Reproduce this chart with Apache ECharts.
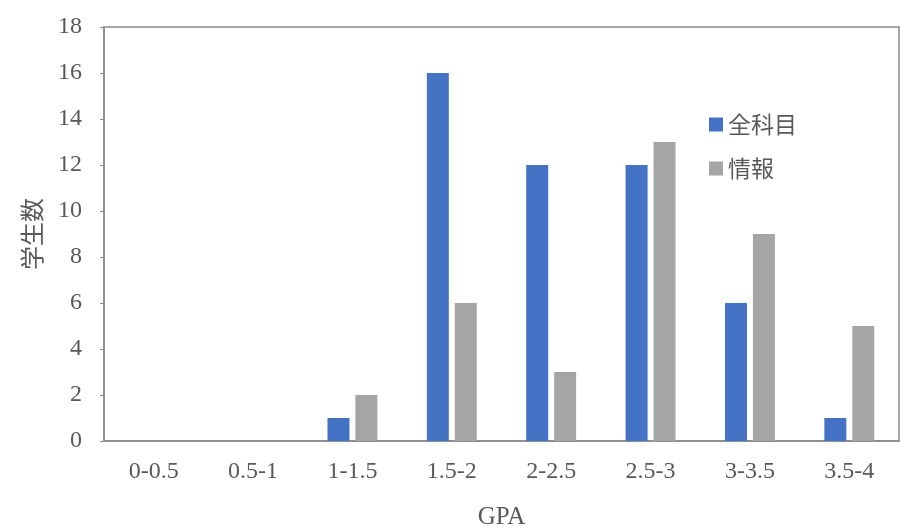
<!DOCTYPE html>
<html><head><meta charset="utf-8">
<script src="https://cdn.jsdelivr.net/npm/echarts@6/dist/echarts.min.js"></script>
<style>html,body{margin:0;padding:0;background:#fff}#c{width:900px;height:530px}</style>
</head><body><div id="c"></div>
<script>
const categories = ['0-0.5','0.5-1','1-1.5','1.5-2','2-2.5','2.5-3','3-3.5','3.5-4'];
const allSubjects = [0,0,1,16,12,12,6,1];
const informatics = [0,0,2,6,3,13,9,5];
const seriesNames = ['全科目','情報'];
const serif = '"Liberation Serif", "Noto Sans CJK JP", serif';
const chart = echarts.init(document.getElementById('c'));
chart.setOption({
  animation:false,
  grid:{left:104,right:1,top:27,bottom:89,show:true,borderColor:'#898989',borderWidth:1.5,containLabel:false,outerBoundsMode:'none'},
  legend:{orient:'vertical',left:704,top:108,itemWidth:14,itemHeight:14,itemGap:21,icon:'rect',
    textStyle:{fontFamily:'"Noto Sans CJK JP", sans-serif',fontSize:23,color:'#595959'},data:seriesNames},
  xAxis:{type:'category',data:categories,
    axisLine:{lineStyle:{color:'#898989',width:1.5}},axisTick:{show:false},
    axisLabel:{color:'#595959',fontFamily:serif,fontSize:24,margin:19},
    name:'GPA',nameLocation:'middle',nameGap:64,nameTextStyle:{color:'#595959',fontFamily:serif,fontSize:25}},
  yAxis:{type:'value',min:0,max:18,interval:2,
    axisLine:{show:true,lineStyle:{color:'#898989',width:1.5}},
    axisTick:{show:true,length:4,lineStyle:{color:'#898989'}},
    splitLine:{show:false},
    axisLabel:{color:'#595959',fontFamily:serif,fontSize:24,margin:22},
    name:'学生数',nameLocation:'middle',nameGap:60,nameRotate:90,
    nameTextStyle:{color:'#595959',fontFamily:'"Noto Sans CJK JP", serif',fontSize:24}},
  series:[
    {name:seriesNames[0],type:'bar',data:allSubjects,barWidth:22,barGap:'27%',itemStyle:{color:'#4472C4'}},
    {name:seriesNames[1],type:'bar',data:informatics,barWidth:22,barGap:'27%',itemStyle:{color:'#A5A5A5'}}
  ]
});
</script></body></html>
